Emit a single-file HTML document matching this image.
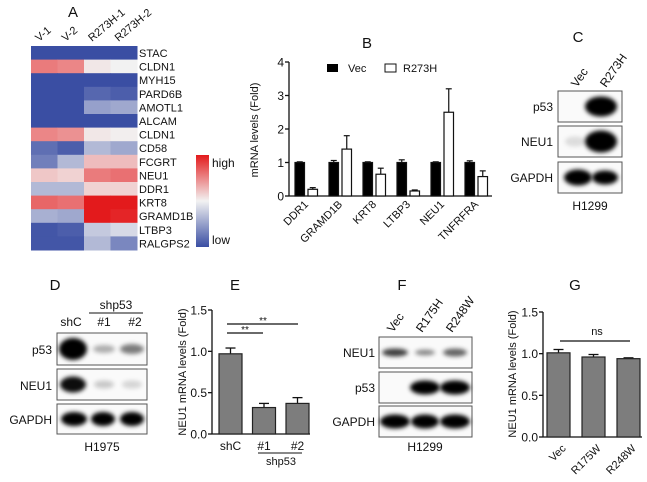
<!DOCTYPE html>
<html><head><meta charset="utf-8"><style>
html,body{margin:0;padding:0;background:#fff}
svg{display:block;font-family:"Liberation Sans",Arial,sans-serif}
</style></head><body>
<svg id="fig" width="647" height="482" viewBox="0 0 647 482">
<defs>
<filter id="bl" x="-50%" y="-100%" width="200%" height="300%"><feGaussianBlur stdDeviation="2.2"/></filter>
<linearGradient id="cbar" x1="0" y1="0" x2="0" y2="1">
<stop offset="0" stop-color="#e31a1c"/><stop offset="0.5" stop-color="#f2f2f2"/><stop offset="1" stop-color="#3a4ea3"/>
</linearGradient>
</defs>
<g id="root"></g>
</svg>
<script>
// ---------- Panel A data ----------
const hmGenes=["STAC","CLDN1","MYH15","PARD6B","AMOTL1","ALCAM","CLDN1","CD58","FCGRT","NEU1","DDR1","KRT8","GRAMD1B","LTBP3","RALGPS2"];
const hmSamples=["V-1","V-2","R273H-1","R273H-2"];
const hmValues=[
[-1,-1,-1,-1],[0.55,0.5,0.05,0],[-1,-1,-1,-1],[-1,-1,-0.85,-0.9],[-1,-1,-0.5,-0.45],
[-1,-1,-1,-1],[0.5,0.45,0.05,0.02],[-0.8,-0.9,-0.35,-0.45],[-0.7,-0.35,0.25,0.25],
[0.2,0.15,0.55,0.6],[-0.35,-0.35,0.15,0.15],[0.65,0.6,1,1],[-0.4,-0.45,1,0.95],
[-0.95,-0.9,-0.25,-0.15],[-0.95,-0.95,-0.35,-0.65]];
// ---------- Panel B data ----------
const bGenes=["DDR1","GRAMD1B","KRT8","LTBP3","NEU1","TNFRFRA"];
const bVec=[1,1,1,1,1,1];
const bVecErr=[0.02,0.06,0.02,0.08,0.02,0.05];
const bMut=[0.2,1.4,0.65,0.15,2.5,0.58];
const bMutErr=[0.05,0.4,0.18,0.03,0.7,0.17];
const bTicks=[0,1,2,3,4];
// ---------- Panel E data ----------
const eCats=["shC","#1","#2"];
const eVals=[0.97,0.32,0.37];
const eErr=[0.07,0.05,0.07];
const eTicks=["0.0","0.5","1.0","1.5"];
// ---------- Panel G data ----------
const gCats=["Vec","R175W","R248W"];
const gVals=[1.01,0.96,0.94];
const gErr=[0.04,0.03,0.01];
const gTicks=["0.0","0.5","1.0","1.5"];

const NS="http://www.w3.org/2000/svg";
const root=document.getElementById('root');
function el(tag,attrs,parent,text){const e=document.createElementNS(NS,tag);for(const k in attrs)e.setAttribute(k,attrs[k]);if(text!==undefined)e.textContent=text;(parent||root).appendChild(e);return e;}
function txt(x,y,s,size,anchor,rot,name,parent){const a={x:x,y:y,'font-size':size,'text-anchor':anchor||'start',fill:'#111'};if(rot)a.transform=`rotate(${rot} ${x} ${y})`;const t=el('text',a,parent,s);


return t;}
function grp(name){const g=el('g',{});


return g;}

function mix(a,b,t){return a.map((v,i)=>Math.round(v+(b[i]-v)*t));}
function hmColor(v){const blue=[58,78,163],white=[242,242,242],red=[227,26,28];const c=v<0?mix(white,blue,-v):mix(white,red,v);return `rgb(${c})`;}

// ----- Panel A -----
(function(){const g=grp('panel-a-heatmap');
txt(73,17,"A",15,'middle',0,'panel-label-a',g);
const x0=31,y0=46,cw=26.5,rh=13.6;
hmSamples.forEach((s,j)=>{txt(x0+cw*j+8,42,s,11,'start',-40,'sample-label',g);});
hmValues.forEach((row,i)=>{row.forEach((v,j)=>{const r=el('rect',{x:x0+cw*j,y:y0+rh*i,width:cw+0.5,height:rh+0.5,fill:hmColor(v)},g);

});
txt(x0+cw*4+2,y0+rh*i+11,hmGenes[i],11,'start',0,'gene-label',g);});
const cb=el('rect',{x:196,y:155,width:13,height:92,fill:'url(#cbar)'},g);


txt(212,167,"high",12,'start',0,'color-scale-high',g);
txt(212,244,"low",12,'start',0,'color-scale-low',g);
})();

function yAxis(g,ax,yTop,yBot,maxV,ticks,labels,size){el('line',{x1:ax,y1:yTop,x2:ax,y2:yBot,stroke:'#111','stroke-width':1.3},g);
ticks.forEach((t,i)=>{const y=yBot-(t/maxV)*(yBot-yTop);el('line',{x1:ax-4,y1:y,x2:ax,y2:y,stroke:'#111','stroke-width':1.3},g);txt(ax-5,y+4.5,labels[i],size,'end',0,'y-tick-label',g);});}

// ----- Panel B -----
(function(){const g=grp('panel-b-bar-chart');
txt(367,48,"B",15,'middle',0,'panel-label-b',g);
const ax=289,yT=62,yB=196,maxV=4;const ys=v=>yB-v/maxV*(yB-yT);
yAxis(g,ax,yT,yB,maxV,bTicks,bTicks.map(String),12);
el('line',{x1:ax,y1:yB,x2:492,y2:yB,stroke:'#111','stroke-width':1.3},g);
txt(258,130,"mRNA levels (Fold)",11,'middle',-90,'y-axis-title',g);
const gw=34,bw=9.5,x0=295;
bGenes.forEach((n,i)=>{const xv=x0+gw*i,xm=xv+13;
[[xv,bVec[i],bVecErr[i],'#000','bar-vec'],[xm,bMut[i],bMutErr[i],'#fff','bar-r273h']].forEach(([x,v,e,f,nm])=>{
el('line',{x1:x+bw/2,y1:ys(v),x2:x+bw/2,y2:ys(v+e),stroke:'#111','stroke-width':1.2},g);
el('line',{x1:x+bw/2-3,y1:ys(v+e),x2:x+bw/2+3,y2:ys(v+e),stroke:'#111','stroke-width':1.2},g);
const r=el('rect',{x:x,y:ys(v),width:bw,height:yB-ys(v),fill:f,stroke:'#111','stroke-width':1.2},g);

});
txt(xv+14,205,n,11,'end',-45,'x-tick-label',g);});
const l1=el('rect',{x:327,y:64,width:11,height:8,fill:'#000'},g);


txt(348,72,"Vec",11,'start',0,'legend-vec',g);
const l2=el('rect',{x:385,y:64,width:11,height:8,fill:'#fff',stroke:'#111'},g);


txt(403,72,"R273H",11,'start',0,'legend-r273h',g);
})();

function blot(g,x,y,w,h,bands,name){const b=grp(name);g.appendChild(b);
el('rect',{x:x,y:y,width:w,height:h,fill:'#fafafa',stroke:'#555','stroke-width':1},b);
bands.forEach(([cx,rx,ry,op])=>{el('ellipse',{cx:cx,cy:y+h/2,rx:rx,ry:ry,fill:'#000','fill-opacity':op,filter:'url(#bl)'},b);});}

// ----- Panel C -----
(function(){const g=grp('panel-c-blot');
txt(578,42,"C",15,'middle',0,'panel-label-c',g);
txt(577,88,"Vec",12,'start',-55,'lane-label',g);txt(606,88,"R273H",12,'start',-55,'lane-label',g);
blot(g,558,91,64,31,[[601,16,10,1]],'blot-p53');
blot(g,558,126,64,31,[[575,10,5,0.12],[601,16,11,1]],'blot-neu1');
blot(g,558,162,64,31,[[578,14,8,1],[605,13,7,1]],'blot-gapdh');
txt(553,111,"p53",12,'end',0,'row-label',g);txt(553,146,"NEU1",12,'end',0,'row-label',g);txt(553,182,"GAPDH",12,'end',0,'row-label',g);
txt(590,210,"H1299",12,'middle',0,'cell-line-label',g);})();

// ----- Panel D -----
(function(){const g=grp('panel-d-blot');
txt(55,290,"D",15,'middle',0,'panel-label-d',g);
txt(116,309,"shp53",12,'middle',0,'group-label',g);el('line',{x1:89,y1:313,x2:143,y2:313,stroke:'#111'},g);
txt(71,326,"shC",12,'middle',0,'lane-label',g);txt(104,326,"#1",12,'middle',0,'lane-label',g);txt(135,326,"#2",12,'middle',0,'lane-label',g);
blot(g,57,333,90,32,[[73,14,11,1],[104,11,4,0.3],[132,12,5,0.5]],'blot-p53');
blot(g,57,369,90,31,[[73,13,8,0.95],[104,10,4,0.2],[132,10,4,0.15]],'blot-neu1');
blot(g,57,404,90,30,[[74,13,7,1],[103,12,7,1],[132,12,7,1]],'blot-gapdh');
txt(52,354,"p53",12,'end',0,'row-label',g);txt(52,390,"NEU1",12,'end',0,'row-label',g);txt(52,424,"GAPDH",12,'end',0,'row-label',g);
txt(102,451,"H1975",12,'middle',0,'cell-line-label',g);})();

function grayChart(name,ax,yT,yB,xEnd,x0,step,bw,cats,vals,errs,ticks,rotLabels){const g=grp(name);
const maxV=1.5;const ys=v=>yB-v/maxV*(yB-yT);
yAxis(g,ax,yT,yB,maxV,ticks.map(Number),ticks,12);
el('line',{x1:ax,y1:yB,x2:xEnd,y2:yB,stroke:'#111','stroke-width':1.3},g);
cats.forEach((c,i)=>{const x=x0+step*i,v=vals[i],e=errs[i];
el('line',{x1:x+bw/2,y1:ys(v),x2:x+bw/2,y2:ys(v+e),stroke:'#111','stroke-width':1.3},g);
el('line',{x1:x+bw/2-5,y1:ys(v+e),x2:x+bw/2+5,y2:ys(v+e),stroke:'#111','stroke-width':1.3},g);
const r=el('rect',{x:x,y:ys(v),width:bw,height:yB-ys(v),fill:'#7d7d7d',stroke:'#222','stroke-width':1.2},g);


if(rotLabels)txt(x+bw/2+8,yB+12,c,11,'end',-45,'x-tick-label',g);else txt(x+bw/2,yB+16,c,12,'middle',0,'x-tick-label',g);});
return {g,ys};}

// ----- Panel E -----
(function(){const r=grayChart('panel-e-bar-chart',212,310,434,310,219,33.5,23,eCats,eVals,eErr,eTicks,false);const g=r.g;
txt(235,290,"E",15,'middle',0,'panel-label-e',g);
txt(186,372,"NEU1 mRNA levels (Fold)",11,'middle',-90,'y-axis-title',g);
el('line',{x1:227,y1:324,x2:298,y2:324,stroke:'#111','stroke-width':1.2},g);txt(263,324,"**",10,'middle',0,'significance-marker',g);
el('line',{x1:227,y1:333,x2:263,y2:333,stroke:'#111','stroke-width':1.2},g);txt(245,333,"**",10,'middle',0,'significance-marker',g);
el('line',{x1:258,y1:453,x2:302,y2:453,stroke:'#111'},g);txt(281,465,"shp53",11,'middle',0,'group-label',g);})();

// ----- Panel F -----
(function(){const g=grp('panel-f-blot');
txt(402,290,"F",15,'middle',0,'panel-label-f',g);
txt(393,333,"Vec",12,'start',-55,'lane-label',g);txt(422,333,"R175H",12,'start',-55,'lane-label',g);txt(452,333,"R248W",12,'start',-55,'lane-label',g);
blot(g,379,337,93,31,[[395,13,4,0.75],[425,10,3,0.45],[455,12,4,0.6]],'blot-neu1');
blot(g,379,372,93,31,[[425,15,7,1],[455,15,7,1]],'blot-p53');
blot(g,379,406,93,31,[[395,15,7,1],[425,14,7,1],[455,15,7,1]],'blot-gapdh');
txt(375,357,"NEU1",12,'end',0,'row-label',g);txt(375,392,"p53",12,'end',0,'row-label',g);txt(375,426,"GAPDH",12,'end',0,'row-label',g);
txt(425,451,"H1299",12,'middle',0,'cell-line-label',g);})();

// ----- Panel G -----
(function(){const r=grayChart('panel-g-bar-chart',543,312,437,642,547,35,23,gCats,gVals,gErr,gTicks,true);const g=r.g;
txt(575,290,"G",15,'middle',0,'panel-label-g',g);
txt(516,374,"NEU1 mRNA levels (Fold)",11,'middle',-90,'y-axis-title',g);
el('line',{x1:560,y1:341,x2:630,y2:341,stroke:'#111','stroke-width':1.2},g);txt(597,335,"ns",11,'middle',0,'significance-label',g);})();
</script>
</body></html>
